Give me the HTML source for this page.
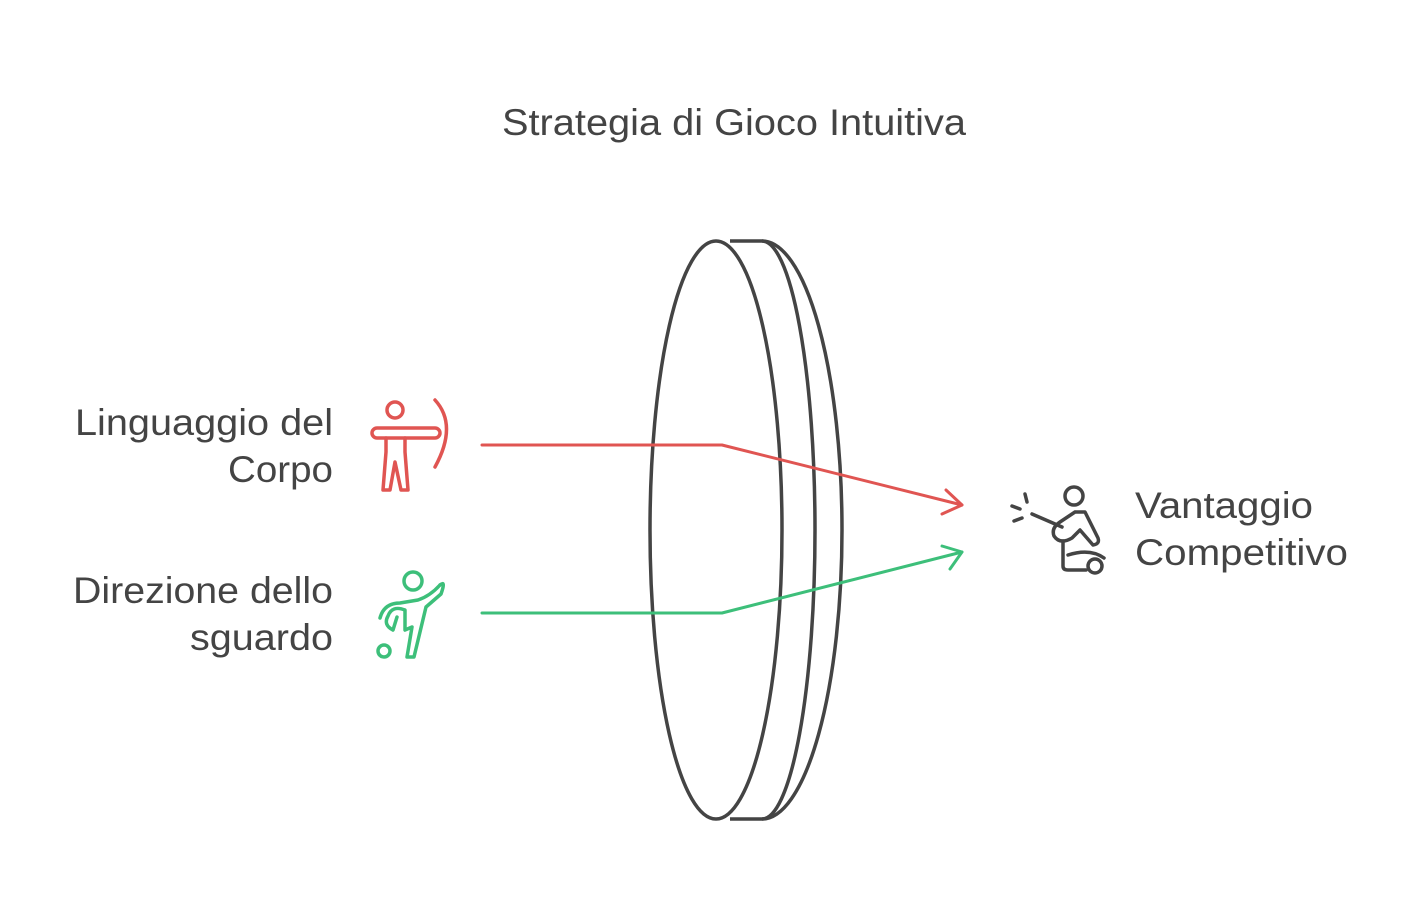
<!DOCTYPE html>
<html><head><meta charset="utf-8"><style>
body{margin:0;background:#fff;}
svg{display:block}
text{font-family:"Liberation Sans",Arial,sans-serif;fill:#444;}
</style></head><body>
<svg width="1420" height="916" viewBox="0 0 1420 916">
<text x="502" y="135" font-size="37" textLength="464" lengthAdjust="spacingAndGlyphs">Strategia di Gioco Intuitiva</text>
<g fill="none" stroke="#444" stroke-width="3.5">
<path d="M762 241 A80 289 0 0 1 762 819"/>
<path d="M762 241 A53 289 0 0 1 762 819"/>
<line x1="730" y1="241" x2="762" y2="241"/>
<line x1="730" y1="819" x2="762" y2="819"/>
<ellipse cx="716" cy="530" rx="66" ry="289" fill="#fff" fill-opacity="0"/>
</g>
<g fill="none" stroke-width="3" stroke-linecap="round" stroke-linejoin="round">
<path d="M482 445 H722 L962 505" stroke="#e05552"/>
<path d="M946 490 L962 505 L942 514" stroke="#e05552"/>
<path d="M482 613 H722 L962 552" stroke="#3dbf7a"/>
<path d="M942 546 L962 552 L950 569" stroke="#3dbf7a"/>
</g>
<text x="75" y="435" font-size="37" textLength="258" lengthAdjust="spacingAndGlyphs">Linguaggio del</text>
<text x="228" y="482" font-size="37" textLength="105" lengthAdjust="spacingAndGlyphs">Corpo</text>
<text x="73" y="603" font-size="37" textLength="260" lengthAdjust="spacingAndGlyphs">Direzione dello</text>
<text x="190" y="650" font-size="37" textLength="143" lengthAdjust="spacingAndGlyphs">sguardo</text>
<text x="1135" y="518" font-size="37" textLength="178" lengthAdjust="spacingAndGlyphs">Vantaggio</text>
<text x="1135" y="565" font-size="37" textLength="213" lengthAdjust="spacingAndGlyphs">Competitivo</text>
<!-- archer icon -->
<g fill="none" stroke="#e05552" stroke-width="3.5" stroke-linecap="round" stroke-linejoin="round">
<circle cx="395" cy="410" r="8"/>
<rect x="372" y="428" width="68" height="10" rx="5"/>
<path d="M386 438 V452 L383 490 H390 L395 462 L401 490 H408 L405 452 V438"/>
<path d="M435 400 Q458 425 435 467"/>
</g>
<!-- soccer icon -->
<g fill="none" stroke="#3dbf7a" stroke-width="3.5" stroke-linecap="round" stroke-linejoin="round">
<circle cx="413" cy="581" r="9"/>
<path d="M440 585 Q446 580 441 594 L426 607 L414 657 H407 L412 627 L405 630 V610 Q392 605 388 616 Q383 625 393 630 L397 617"/>
<path d="M440 585 Q430 596 418 600 L400 603 Q384 603 380 618"/>
<circle cx="384" cy="651" r="6"/>
</g>
<!-- competitive icon -->
<g fill="none" stroke="#444" stroke-width="3.5" stroke-linecap="round" stroke-linejoin="round">
<circle cx="1074" cy="496" r="9"/>
<path d="M1032 514 L1062 527"/>
<path d="M1012 506 L1020 509 M1014 521 L1022 518 M1025 494 L1027 502"/>
<path d="M1075 512 L1085 512 L1098 538 Q1100 544 1093 545 L1080 530 L1072 538 Q1060 545 1054 536 Q1051 528 1060 522 L1075 512"/>
<path d="M1063 541 V566 Q1063 570 1068 570 H1086"/>
<path d="M1068 555 Q1090 548 1104 558"/>
<circle cx="1095" cy="566" r="7"/>
</g>
</svg>
</body></html>
